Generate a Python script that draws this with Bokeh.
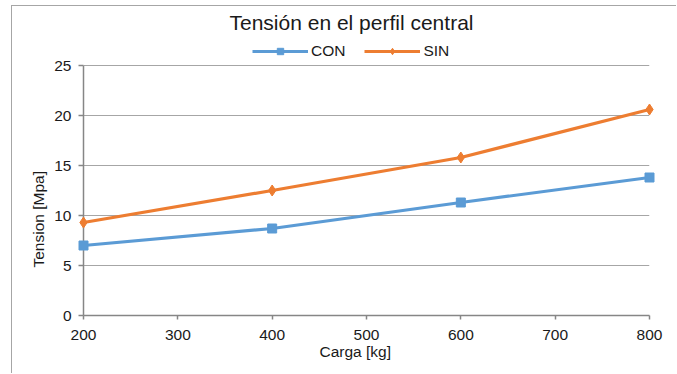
from bokeh.plotting import figure
from bokeh.models import Legend, LegendItem, Range1d, Title, SingleIntervalTicker
from bokeh.embed import file_html
from bokeh.resources import INLINE

carga = [200, 400, 600, 800]
con = [7.0, 8.7, 11.3, 13.8]
sin = [9.3, 12.5, 15.8, 20.6]
series_names = ["CON", "SIN"]
title_text = "Tensión en el perfil central"
x_label = "Carga [kg]"
y_label = "Tension [Mpa]"

FONT = "Liberation Sans"
FS = "15.5px"
TXT = "#1a1a1a"
BLUE = "#5B9BD5"
ORANGE = "#ED7D31"
AX = "#868686"

p = figure(width=665, height=368, output_backend="svg", toolbar_location=None,
           x_range=Range1d(200, 800), y_range=Range1d(0, 28),
           min_border_left=71, min_border_right=28, min_border_top=29, min_border_bottom=59,
           title=None)
p.margin = (5, 0, 0, 11)
p.styles = {"border-left": "1px solid #a6a6a6", "border-top": "1px solid #a6a6a6"}
p.outline_line_color = None
p.background_fill_color = "white"
p.border_fill_color = "white"

l1 = p.line(carga, con, line_color=BLUE, line_width=3.2, level="overlay")
m1 = p.scatter(carga, con, marker="square", size=9, fill_color=BLUE, line_color=BLUE, level="overlay")
l2 = p.line(carga, sin, line_color=ORANGE, line_width=3.2, level="overlay")
m2 = p.scatter(carga, sin, marker="diamond", size=11, fill_color=ORANGE, line_color=ORANGE, level="overlay")

p.xaxis.ticker = SingleIntervalTicker(interval=100)
p.yaxis.ticker = SingleIntervalTicker(interval=5)
p.yaxis.bounds = (0, 25)
for ax in (p.xaxis, p.yaxis):
    ax.axis_line_color = AX
    ax.axis_line_width = 1.5
    ax.major_tick_line_color = AX
    ax.major_tick_line_width = 1.5
    ax.major_tick_in = 0
    ax.minor_tick_line_color = None
    ax.major_label_text_font = FONT
    ax.major_label_text_font_size = FS
    ax.major_label_text_color = TXT
p.yaxis.major_tick_out = 5
p.xaxis.major_tick_out = 4
p.yaxis.major_label_standoff = 7
p.xaxis.major_label_standoff = 10

p.xgrid.visible = False
p.ygrid.grid_line_color = "#a6a6a6"
p.ygrid.grid_line_width = 1
p.ygrid.bounds = (0, 25)

# axis titles as side-panel titles so they can be shifted like in the reference
p.add_layout(Title(text=y_label, text_font=FONT, text_font_size=FS, text_font_style="normal",
                   text_color=TXT, align="left", offset=48, standoff=9), "left")
p.add_layout(Title(text=x_label, text_font=FONT, text_font_size=FS, text_font_style="normal",
                   text_color=TXT, align="left", offset=236, standoff=-4), "below")

legend = Legend(items=[LegendItem(label=series_names[0], renderers=[l1, m1]),
                       LegendItem(label=series_names[1], renderers=[l2, m2])],
                orientation="horizontal", location=(169, 255),
                border_line_color=None, background_fill_alpha=0,
                label_text_font=FONT, label_text_font_size=FS, label_text_color=TXT,
                glyph_width=56, glyph_height=16, label_standoff=3, spacing=19,
                margin=0, padding=4)
p.add_layout(legend, "center")
p.add_layout(Title(text=title_text, text_font=FONT, text_font_size="21px",
                   text_font_style="normal", text_color=TXT, align="left",
                   offset=146, standoff=3), "above")

open("out.html", "w").write(file_html(p, INLINE))
